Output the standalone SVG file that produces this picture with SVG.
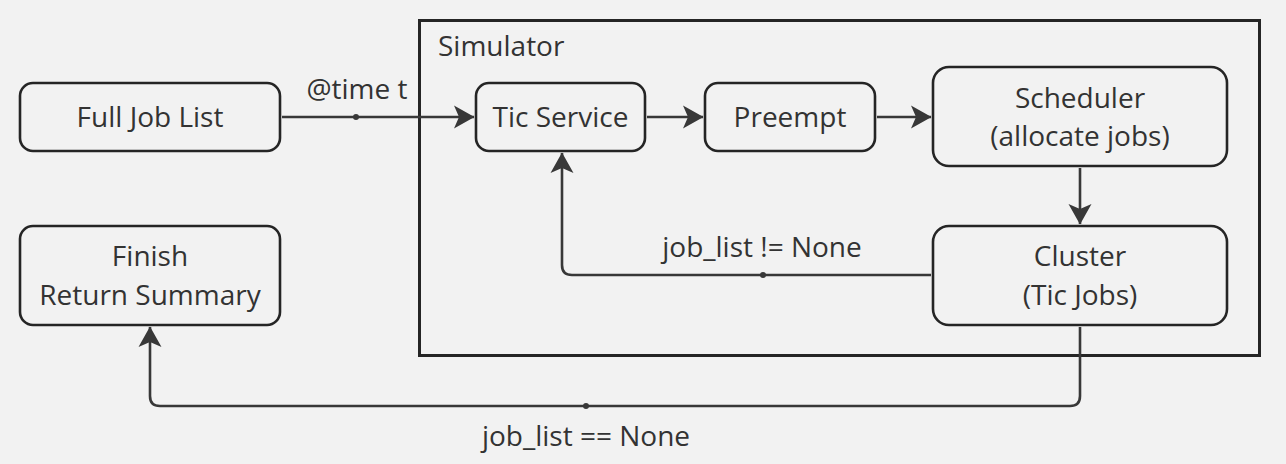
<svg xmlns="http://www.w3.org/2000/svg" width="1286" height="464" viewBox="0 0 1286 464">
<style>
.bg{fill:#f2f2f2}
.node rect{fill:#f2f2f2;stroke:#252525;stroke-width:2.6}
.frame{fill:none;stroke:#252525;stroke-width:3}
text{font-family:"Open Sans","Noto Sans",sans-serif;font-size:28px;fill:#333333;text-anchor:middle}
.conn path{fill:none;stroke:#383838;stroke-width:2.6}
.dot{fill:#383838}
</style>
<defs>
<marker id="ah" markerWidth="22" markerHeight="24" refX="20" refY="12" orient="auto" markerUnits="userSpaceOnUse">
<path d="M0,0.5 L20.5,12 L0,23.5 L5,12 Z" fill="#383838"/>
</marker>
</defs>
<rect class="bg" x="0" y="0" width="1286" height="464"/>
<g id="simulator">
<rect class="frame" x="419.5" y="20.5" width="840" height="335"/>
<text x="438" y="56" style="text-anchor:start">Simulator</text>
</g>
<g id="full-job-list" class="node">
<rect x="20" y="83" width="260" height="68" rx="13"/>
<text x="150" y="127">Full Job List</text>
</g>
<g id="finish" class="node">
<rect x="20" y="226" width="260" height="99" rx="13"/>
<text x="150" y="266">Finish</text>
<text x="150" y="305">Return Summary</text>
</g>
<g id="tic-service" class="node">
<rect x="476" y="83" width="169" height="68" rx="13"/>
<text x="560.5" y="127">Tic Service</text>
</g>
<g id="preempt" class="node">
<rect x="705" y="83" width="170" height="68" rx="13"/>
<text x="790" y="127">Preempt</text>
</g>
<g id="scheduler" class="node">
<rect x="933" y="67" width="294" height="99" rx="16"/>
<text x="1080" y="108">Scheduler</text>
<text x="1080" y="146">(allocate jobs)</text>
</g>
<g id="cluster" class="node">
<rect x="933" y="226" width="294" height="99" rx="16"/>
<text x="1080" y="266">Cluster</text>
<text x="1080" y="305">(Tic Jobs)</text>
</g>
<g id="connectors" class="conn">
<path d="M282,117 L474,117" marker-end="url(#ah)"/>
<circle class="dot" cx="356" cy="117" r="3"/>
<text x="357" y="99">@time t</text>
<path d="M647,117 L703,117" marker-end="url(#ah)"/>
<path d="M877,117 L931,117" marker-end="url(#ah)"/>
<path d="M1080,168 L1080,224" marker-end="url(#ah)"/>
<path d="M931,275 L572,275 Q562,275 562,265 L562,153" marker-end="url(#ah)"/>
<circle class="dot" cx="763" cy="275" r="3"/>
<text x="762" y="257">job_list != None</text>
<path d="M1080,327 L1080,396 Q1080,406 1070,406 L160,406 Q150,406 150,396 L150,327" marker-end="url(#ah)"/>
<circle class="dot" cx="586" cy="406" r="3"/>
<text x="586" y="446">job_list == None</text>
</g>
</svg>
